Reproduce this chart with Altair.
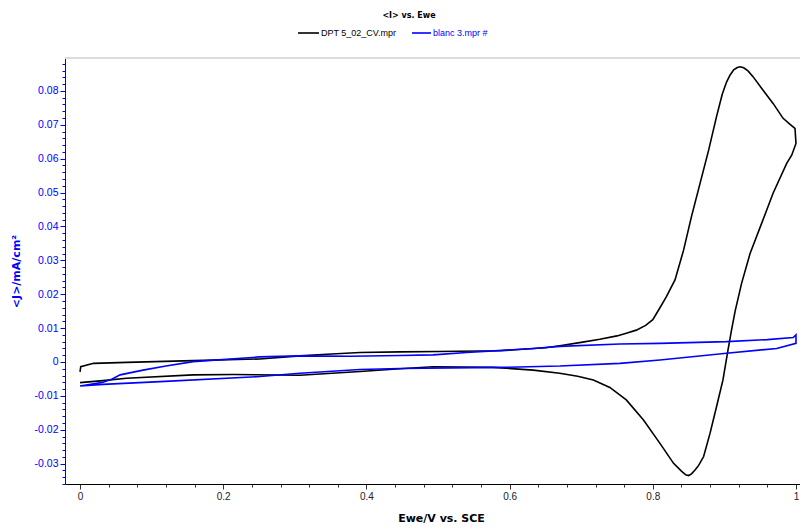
import altair as alt
import pandas as pd

chart_title = "<I> vs. Ewe"
series_names = ["DPT 5_02_CV.mpr", "blanc 3.mpr #"]
series_colors = ["#000000", "#0000ff"]
x_title = "Ewe/V vs. SCE"
y_title = "<J>/mA/cm\u00b2"

# DPT 5_02_CV.mpr : forward scan then reverse scan
dpt_x = [0.000, 0.001, 0.019, 0.065, 0.158, 0.251, 0.307, 0.345, 0.391, 0.447,
         0.500, 0.587, 0.650, 0.670, 0.700, 0.726, 0.750, 0.763, 0.777, 0.790,
         0.800, 0.810, 0.819, 0.831, 0.843, 0.854, 0.866, 0.878, 0.889, 0.897,
         0.903, 0.908, 0.913, 0.918, 0.922, 0.927, 0.933, 0.940, 0.954, 0.968,
         0.982, 0.993, 0.9986, 1.000,
         0.994, 0.987, 0.968, 0.952, 0.936, 0.924, 0.915, 0.910, 0.905, 0.898,
         0.889, 0.880, 0.871, 0.864, 0.859, 0.854, 0.850, 0.846, 0.840, 0.829,
         0.810, 0.787, 0.763, 0.740, 0.717, 0.695, 0.670, 0.633, 0.577, 0.493,
         0.447, 0.391, 0.307, 0.214, 0.158, 0.065, 0.032, 0.000]
dpt_y = [-0.0029, -0.0014, -0.0004, -0.0001, 0.0004, 0.0009, 0.0018, 0.0023, 0.0028, 0.0030,
         0.0031, 0.0033, 0.0042, 0.0048, 0.0058, 0.0067, 0.0077, 0.0085, 0.0094, 0.0108,
         0.0125, 0.0160, 0.0193, 0.0242, 0.0330, 0.0429, 0.0527, 0.0625, 0.0724, 0.0790,
         0.0826, 0.0847, 0.0862, 0.0869, 0.0871, 0.0868, 0.0859, 0.0842, 0.0802, 0.0763,
         0.0719, 0.0699, 0.0689, 0.0645,
         0.0610, 0.0586, 0.0498, 0.0409, 0.0321, 0.0232, 0.0150, 0.0095, 0.0035, -0.0053,
         -0.0132, -0.0210, -0.0279, -0.0305, -0.0319, -0.0330, -0.0335, -0.0333, -0.0322, -0.0299,
         -0.0240, -0.0171, -0.0112, -0.0075, -0.0053, -0.0042, -0.0033, -0.0024, -0.0016, -0.0014,
         -0.0020, -0.0028, -0.0039, -0.0037, -0.0038, -0.0048, -0.0055, -0.0061]

# blanc 3.mpr #
blanc_x = [0.000, 0.032, 0.045, 0.056, 0.088, 0.120, 0.158, 0.251, 0.307, 0.377,
           0.447, 0.493, 0.540, 0.633, 0.670, 0.754, 0.810, 0.903, 0.960, 0.996,
           1.000, 1.000, 0.973, 0.903, 0.810, 0.754, 0.670, 0.587, 0.447, 0.391,
           0.307, 0.251, 0.112, 0.032, 0.000]
blanc_y = [-0.0071, -0.0060, -0.0050, -0.0038, -0.0024, -0.0012, 0.0001, 0.0015, 0.0018, 0.0017,
           0.0019, 0.0021, 0.0028, 0.0040, 0.0046, 0.0053, 0.0055, 0.0060, 0.0066, 0.0072,
           0.0080, 0.0055, 0.0040, 0.0026, 0.0006, -0.0004, -0.0012, -0.0016, -0.0019, -0.0022,
           -0.0033, -0.0043, -0.0058, -0.0066, -0.0071]

x_major = [0, 0.2, 0.4, 0.6, 0.8, 1.0]
x_minor = [0.04, 0.08, 0.12, 0.16, 0.24, 0.28, 0.32, 0.36, 0.44, 0.48, 0.52, 0.56,
           0.64, 0.68, 0.72, 0.76, 0.84, 0.88, 0.92, 0.96]
y_major = [-0.03, -0.02, -0.01, 0, 0.01, 0.02, 0.03, 0.04, 0.05, 0.06, 0.07, 0.08]
y_minor = [-0.036, -0.034, -0.032, -0.028, -0.026, -0.024, -0.022, -0.018, -0.016, -0.014,
           -0.012, -0.008, -0.006, -0.004, -0.002, 0.002, 0.004, 0.006, 0.008, 0.012,
           0.014, 0.016, 0.018, 0.022, 0.024, 0.026, 0.028, 0.032, 0.034, 0.036, 0.038,
           0.042, 0.044, 0.046, 0.048, 0.052, 0.054, 0.056, 0.058, 0.062, 0.064, 0.066,
           0.068, 0.072, 0.074, 0.076, 0.078, 0.082, 0.084, 0.086, 0.088]

rows = []
for name, xs, ys in [(series_names[0], dpt_x, dpt_y), (series_names[1], blanc_x, blanc_y)]:
    for i, (xv, yv) in enumerate(zip(xs, ys)):
        rows.append({"series": name, "idx": i, "x": xv, "y": yv})
df = pd.DataFrame(rows)
legend_df = pd.DataFrame({"series": series_names, "color": series_colors})

W, H = 735, 426
x_scale = alt.Scale(domain=[-0.021, 1.0056], nice=False, zero=False)
y_scale = alt.Scale(domain=[-0.036, 0.0897], nice=False, zero=False)
BLUE = "#0000ff"

base = alt.Chart(df)

minor = base.mark_line(opacity=0).encode(
    x=alt.X("x:Q", scale=x_scale, axis=alt.Axis(
        orient="bottom", values=x_minor, labels=False, domain=False, grid=False,
        tickSize=3, tickColor="#333333", tickWidth=1, title=None)),
    y=alt.Y("y:Q", scale=y_scale, axis=alt.Axis(
        orient="left", values=y_minor, labels=False, domain=False, grid=False,
        tickSize=3, tickColor=BLUE, tickWidth=1, title=None)),
    detail="series:N",
    order="idx:Q",
)

lines = base.mark_line(strokeWidth=1.6).encode(
    x=alt.X("x:Q", scale=x_scale, axis=alt.Axis(
        orient="bottom", values=x_major, labelExpr="'' + datum.value", grid=False,
        domainColor="#000000", domainWidth=1, tickColor="#333333", tickSize=5, tickWidth=1,
        labelFont="Liberation Sans", labelFontSize=10, labelColor="#222222",
        labelPadding=2, labelFlush=False, labelOverlap=False,
        title=x_title, titleFont="DejaVu Sans", titleFontSize=11, titleFontWeight="bold",
        titleColor="#000000", titleX=376, titleY=37, titleBaseline="alphabetic", titleAlign="center")),
    y=alt.Y("y:Q", scale=y_scale, axis=alt.Axis(
        orient="left", values=y_major, labelExpr="'' + datum.value", grid=False,
        domainColor=BLUE, domainWidth=1, tickColor=BLUE, tickSize=5, tickWidth=1,
        labelFont="Liberation Sans", labelFontSize=10.5, labelColor=BLUE,
        labelPadding=2, labelFlush=False, labelOverlap=False,
        title=y_title, titleFont="DejaVu Sans", titleFontSize=11, titleFontWeight="bold",
        titleColor=BLUE, titleX=-49, titleY=213, titleAngle=270,
        titleBaseline="middle", titleAlign="center")),
    color=alt.Color("series:N", scale=alt.Scale(domain=series_names, range=series_colors), legend=None),
    order="idx:Q",
)

top_line = alt.Chart(legend_df).transform_filter(
    alt.datum.series == series_names[0]
).mark_rule(color="#dcdcdc", strokeWidth=2).encode(
    x=alt.value(0), x2=alt.value(W), y=alt.value(0)
)

title_txt = alt.Chart(pd.DataFrame({"t": [chart_title]})).mark_text(
    font="DejaVu Sans", fontWeight="bold", fontSize=8, align="center", baseline="middle", color="#000000"
).encode(x=alt.value(344), y=alt.value(-42), text="t:N")

leg_layers = []
leg_pos = [(233, 254, 256), (347, 366, 368)]
for name, col, (x0, x1, xt) in zip(series_names, series_colors, leg_pos):
    src = alt.Chart(legend_df).transform_filter(alt.datum.series == name)
    leg_layers.append(src.mark_rule(color=col, strokeWidth=1.6).encode(
        x=alt.value(x0), x2=alt.value(x1), y=alt.value(-25)))
    leg_layers.append(src.mark_text(
        font="Liberation Sans", fontSize=9, align="left", baseline="middle", color=col
    ).encode(x=alt.value(xt), y=alt.value(-25), text="series:N"))

chart = alt.layer(minor, lines, top_line, title_txt, *leg_layers).resolve_axis(
    x="independent", y="independent"
).properties(
    width=W, height=H,
    autosize=alt.AutoSizeParams(type="none"),
    padding={"left": 57, "top": 50, "right": 0, "bottom": 40},
).configure_view(stroke=None)

chart.save("out.html", embed_options={"renderer": "svg", "actions": False})
